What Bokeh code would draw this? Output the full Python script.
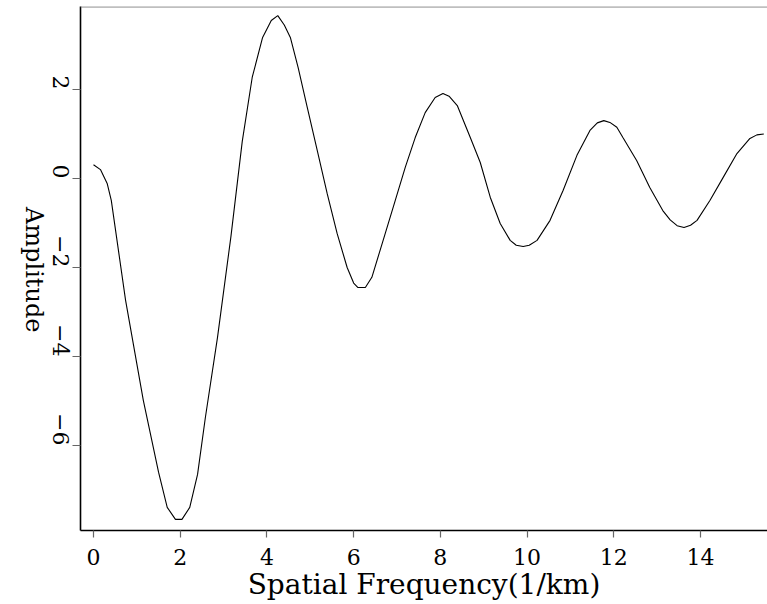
import math
from bokeh.plotting import figure
from bokeh.models import FixedTicker, CustomJSTickFormatter, Span, Range1d, LinearAxis
from bokeh.embed import file_html
from bokeh.resources import INLINE

# Spatial frequency (1/km) and amplitude
freq = [0.0, 0.16, 0.315, 0.41, 0.74, 1.15, 1.5, 1.7, 1.89, 2.04, 2.22, 2.4,
        2.58, 2.86, 3.17, 3.43, 3.66, 3.9, 4.1, 4.25, 4.4, 4.54, 4.72, 4.93,
        5.16, 5.39, 5.62, 5.85, 6.0, 6.1, 6.27, 6.42, 6.68, 6.96, 7.19, 7.42,
        7.65, 7.88, 8.06, 8.2, 8.39, 8.69, 8.92, 9.15, 9.38, 9.61, 9.75, 9.91,
        10.05, 10.23, 10.53, 10.83, 11.15, 11.45, 11.62, 11.77, 11.91, 12.07,
        12.21, 12.53, 12.83, 13.13, 13.3, 13.46, 13.62, 13.77, 13.92, 14.22,
        14.52, 14.84, 15.14, 15.3, 15.46]
amp = [0.31, 0.2, -0.11, -0.49, -2.74, -4.99, -6.6, -7.39, -7.66, -7.66, -7.39, -6.65,
       -5.37, -3.57, -1.30, 0.83, 2.27, 3.17, 3.55, 3.66, 3.45, 3.17, 2.49, 1.6,
       0.63, -0.34, -1.24, -2.0, -2.35, -2.45, -2.45, -2.22, -1.39, -0.49, 0.25, 0.92,
       1.48, 1.82, 1.91, 1.85, 1.64, 0.92, 0.36, -0.42, -1.01, -1.39, -1.5, -1.53,
       -1.5, -1.39, -0.94, -0.27, 0.52, 1.08, 1.25, 1.30, 1.26, 1.15,
       0.92, 0.40, -0.2, -0.72, -0.93, -1.06, -1.10, -1.05, -0.94, -0.49,
       0.02, 0.56, 0.9, 0.98, 1.0]

x_ticks = [0, 2, 4, 6, 8, 10, 12, 14]
y_ticks = [-6, -4, -2, 0, 2]
x_title = "Spatial Frequency(1/km)"
y_title = "Amplitude"

FONT = "DejaVu Serif"
X0, X1 = -0.30, 15.545
Y0, Y1 = -7.91, 3.865
FRAME_H = 524.0

p = figure(width=767, height=603, output_backend="svg", toolbar_location=None,
           x_range=Range1d(X0, X1), y_range=Range1d(Y0, Y1),
           min_border_left=80, min_border_right=0, min_border_top=6, min_border_bottom=73)

p.line(freq, amp, line_color="black", line_width=1.1)

p.grid.visible = False
p.outline_line_color = None
p.background_fill_color = "white"
p.border_fill_color = "white"

p.add_layout(Span(location=Y1 - 0.01, dimension="width", line_color="#808080", line_width=1.2))

minus_fmt = CustomJSTickFormatter(code="return tick < 0 ? '\\u2212' + Math.abs(tick) : String(tick);")

for ax in (p.xaxis[0], p.yaxis[0]):
    ax.axis_line_color = "black"
    ax.axis_line_width = 1.6
    ax.major_tick_line_color = "#666666"
    ax.major_tick_line_width = 1.2
    ax.major_tick_in = 0
    ax.minor_tick_line_color = None
    ax.major_label_text_font = FONT
    ax.major_label_text_font_size = "22px"
    ax.major_label_text_color = "black"
    ax.axis_label_text_font = FONT
    ax.axis_label_text_font_style = "normal"
    ax.axis_label_text_color = "black"
    ax.formatter = minus_fmt

p.xaxis.axis_label_text_font_size = "28px"
p.xaxis.ticker = FixedTicker(ticks=x_ticks)
p.yaxis.ticker = FixedTicker(ticks=y_ticks)
p.xaxis.major_tick_out = 7
p.yaxis.major_tick_out = 8
p.xaxis.major_label_standoff = 11
p.yaxis.major_label_standoff = 12
p.xaxis.axis_label = x_title
p.xaxis.axis_label_standoff = 0
p.yaxis.major_label_orientation = -math.pi / 2

# y title: an extra left axis with a single label reading "Amplitude".
# A rotated label ends at its anchor, so the anchor sits half the text length below centre.
half_text_px = 64.0
anchor = (Y0 + Y1) / 2 - half_text_px * (Y1 - Y0) / FRAME_H
title_axis = LinearAxis(ticker=FixedTicker(ticks=[anchor]),
                        formatter=CustomJSTickFormatter(code="return %r;" % y_title),
                        axis_line_color=None, major_tick_line_color=None,
                        minor_tick_line_color=None, major_tick_in=0, major_tick_out=0,
                        major_label_standoff=8, major_label_orientation=-math.pi / 2,
                        major_label_text_font=FONT, major_label_text_font_size="24px",
                        major_label_text_line_height=1.0,
                        major_label_text_color="black")
p.add_layout(title_axis, "left")

open("out.html", "w").write(file_html(p, INLINE))
